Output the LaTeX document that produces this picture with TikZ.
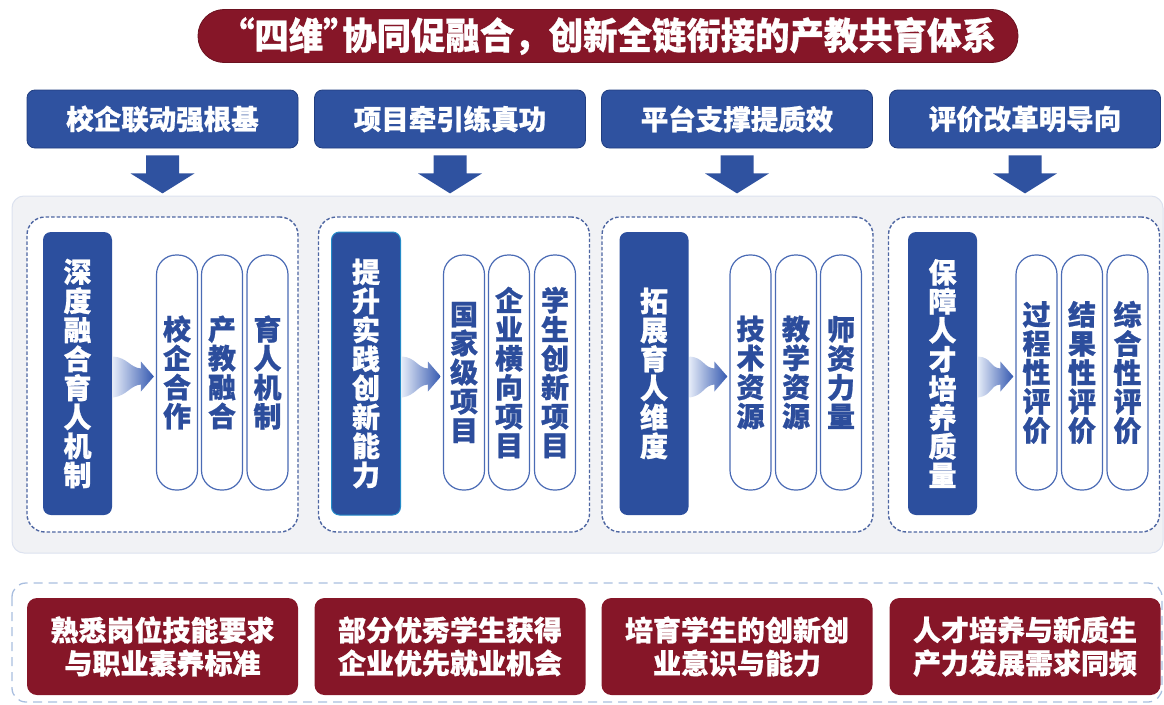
\documentclass[tikz,border=0pt]{standalone}
\usepackage{fontspec}
\setmainfont{Noto Sans CJK SC}[BoldFeatures={FakeBold=0.8}]
\usetikzlibrary{calc}
\definecolor{dred}{HTML}{861628}
\definecolor{hblue}{HTML}{2F52A0}
\definecolor{hborder}{HTML}{213E80}
\definecolor{mblue}{HTML}{2C4F9E}
\definecolor{pillline}{HTML}{4A6BB5}
\definecolor{pilltext}{HTML}{2C4D9C}
\definecolor{panelfill}{HTML}{F1F2F5}
\definecolor{panelline}{HTML}{DCE2EF}
\definecolor{dashblue}{HTML}{4E66A2}
\definecolor{lightdash}{HTML}{A9BEDF}
\definecolor{arrowL}{HTML}{E2E9F7}
\definecolor{arrowR}{HTML}{3559B0}
\newcommand{\gradarrow}[2]{%
  \path[shade, left color=arrowL, right color=arrowR]
    ($(#1)+(0,-20)$) .. controls ($(#1)+(14,-19)$) and ($(#2)+(-24,-9)$) .. ($(#2)+(-13,-8)$)
    -- ($(#2)+(-13,-15)$) -- (#2) -- ($(#2)+(-13,15)$) -- ($(#2)+(-13,8)$)
    .. controls ($(#2)+(-24,9)$) and ($(#1)+(14,19)$) .. ($(#1)+(0,21)$) -- cycle;}
\newcommand{\blockdown}[1]{%
  \fill[hblue] ($(#1)+(-16.5,0)$) -- ($(#1)+(16.5,0)$) -- ($(#1)+(16.5,18)$) -- ($(#1)+(32,18)$)
    -- ($(#1)+(0,38)$) -- ($(#1)+(-32,18)$) -- ($(#1)+(-16.5,18)$) -- cycle;}
\begin{document}
\begin{tikzpicture}[x=1pt,y=-1pt,
  titlebox/.style={fill=dred, draw=dred!80!black, line width=0.8pt, rounded corners=26pt, minimum width=820pt, minimum height=53pt, inner sep=0pt, text=white, font=\fontsize{37}{40}\selectfont\bfseries},
  hdr/.style={fill=hblue, draw=hborder, line width=0.8pt, rounded corners=8pt, minimum width=271pt, minimum height=58pt, inner sep=0pt, text=white, font=\fontsize{27.5}{30}\selectfont\bfseries},
  colbox/.style={fill=white, draw=dashblue, line width=1.4pt, dash pattern=on 3.5pt off 2pt, rounded corners=18pt, minimum width=271pt, minimum height=315pt, inner sep=0pt},
  mainbox/.style={fill=mblue, rounded corners=8pt, minimum width=69pt, minimum height=283pt, inner sep=0pt, text=white, align=center, font=\fontsize{28}{29}\selectfont\bfseries},
  pill/.style={fill=white, draw=pillline, line width=1.2pt, rounded corners=19.5pt, minimum width=41pt, minimum height=235pt, inner sep=0pt, text=pilltext, align=center, font=\fontsize{28}{29}\selectfont\bfseries},
  result/.style={fill=dred, rounded corners=10pt, minimum width=271pt, minimum height=97pt, inner sep=0pt, text=white, align=center, font=\fontsize{28}{33}\selectfont\bfseries}]
\useasboundingbox (0,0) rectangle (1164,704);
% title
\node[titlebox] (title) at (608,36) {\scalebox{0.93}[1]{“四维”\kern-0.45em 协同促融合，创新全链衔接的产教共育体系}};
% headers
\node[hdr] (h1) at (162.5,119) {校企联动强根基};
\node[hdr] (h2) at (450,119) {项目牵引练真功};
\node[hdr] (h3) at (737,119) {平台支撑提质效};
\node[hdr] (h4) at (1025,119) {评价改革明导向};
% down arrows
\foreach \i in {1,2,3,4}{\coordinate (d\i) at ($(h\i.south)+(0,7)$); \blockdown{d\i}}
% big panel
\draw[fill=panelfill, draw=panelline, line width=1pt, rounded corners=12pt] (12,196) rectangle (1163,553);
% column boxes
\node[colbox] (c1) at (162.5,374.5) {};
\node[colbox] (c2) at (454,374.5) {};
\node[colbox] (c3) at (737.5,374.5) {};
\node[colbox] (c4) at (1024,374.5) {};
% main boxes
\node[mainbox] (m1) at (77.5,373.5) {深\\度\\融\\合\\育\\人\\机\\制};
\node[mainbox, draw=arrowR!70!cyan, line width=1pt] (m2) at (366,373.5) {提\\升\\实\\践\\创\\新\\能\\力};
\node[mainbox] (m3) at (654,373.5) {拓\\展\\育\\人\\维\\度};
\node[mainbox] (m4) at (942.5,373.5) {保\\障\\人\\才\\培\\养\\质\\量};
% pills
\node[pill] (p11) at (177,372.5) {校\\企\\合\\作};
\node[pill] (p12) at (222,372.5) {产\\教\\融\\合};
\node[pill] (p13) at (267.5,372.5) {育\\人\\机\\制};
\node[pill] (p21) at (464,372.5) {国\\家\\级\\项\\目};
\node[pill] (p22) at (509,372.5) {企\\业\\横\\向\\项\\目};
\node[pill] (p23) at (555,372.5) {学\\生\\创\\新\\项\\目};
\node[pill] (p31) at (750.5,372.5) {技\\术\\资\\源};
\node[pill] (p32) at (796,372.5) {教\\学\\资\\源};
\node[pill] (p33) at (841,372.5) {师\\资\\力\\量};
\node[pill] (p41) at (1036.5,372.5) {过\\程\\性\\评\\价};
\node[pill] (p42) at (1082,372.5) {结\\果\\性\\评\\价};
\node[pill] (p43) at (1127.5,372.5) {综\\合\\性\\评\\价};
% gradient arrows
\foreach \i in {1,2,3,4}{
  \coordinate (s\i) at ($(m\i.east)+(1,3)$);
  \coordinate (u\i) at (p\i1.west |- s\i);
  \coordinate (t\i) at ($(u\i)+(-2,0)$);
  \gradarrow{s\i}{t\i}}
% bottom panel
\draw[draw=lightdash, line width=1.3pt, dash pattern=on 9pt off 6pt, rounded corners=14pt] (12,583) rectangle (1162,702);
% results
\node[result] (r1) at (162.5,646.5) {熟悉岗位技能要求\\与职业素养标准};
\node[result] (r2) at (450,646.5) {部分优秀学生获得\\企业优先就业机会};
\node[result] (r3) at (737,646.5) {培育学生的创新创\\业意识与能力};
\node[result] (r4) at (1025,646.5) {人才培养与新质生\\产力发展需求同频};
\end{tikzpicture}
\end{document}
